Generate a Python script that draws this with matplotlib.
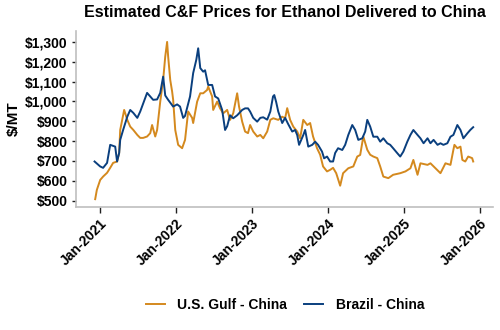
import numpy as np
import pandas as pd
import matplotlib
matplotlib.use("Agg")
import matplotlib.pyplot as plt
import matplotlib.dates as mdates

plt.rcParams["font.family"] = ["Liberation Sans", "DejaVu Sans"]
plt.rcParams["font.weight"] = "bold"

# ---------------------------------------------------------
# Prices ($/MT), C&F China
# ---------------------------------------------------------
gulf_dates = [
    "2020-12-11", "2020-12-19", "2021-01-04", "2021-01-18", "2021-02-06", "2021-02-21",
    "2021-03-07", "2021-03-26", "2021-04-05", "2021-04-10", "2021-04-29", "2021-05-14",
    "2021-05-28", "2021-06-12", "2021-07-01", "2021-07-15", "2021-07-29", "2021-08-17",
    "2021-09-01", "2021-09-10", "2021-09-25", "2021-10-04", "2021-10-19", "2021-11-02",
    "2021-11-12", "2021-11-21", "2021-11-26", "2021-12-06", "2021-12-15", "2021-12-20",
    "2021-12-30", "2022-01-13", "2022-02-01", "2022-02-15", "2022-03-02", "2022-03-21",
    "2022-03-26", "2022-04-14", "2022-04-29", "2022-05-13", "2022-06-01", "2022-06-06",
    "2022-06-25", "2022-06-30", "2022-07-19", "2022-08-02", "2022-08-17", "2022-09-05",
    "2022-09-19", "2022-10-04", "2022-10-23", "2022-11-01", "2022-11-16", "2022-11-30",
    "2022-12-14", "2022-12-24", "2023-01-08", "2023-01-27", "2023-02-11", "2023-02-25",
    "2023-03-16", "2023-03-31", "2023-04-14", "2023-05-08", "2023-05-27", "2023-06-10",
    "2023-06-20", "2023-07-04", "2023-07-19", "2023-08-07", "2023-08-21", "2023-09-05",
    "2023-09-24", "2023-10-08", "2023-10-22", "2023-11-10", "2023-11-25", "2023-12-09",
    "2023-12-28", "2024-01-12", "2024-01-26", "2024-02-10", "2024-02-29", "2024-03-14",
    "2024-04-08", "2024-05-02", "2024-05-21", "2024-06-04", "2024-06-19", "2024-07-08",
    "2024-07-22", "2024-08-06", "2024-08-25", "2024-09-08", "2024-09-23", "2024-10-17",
    "2024-11-09", "2024-12-13", "2025-01-07", "2025-01-31", "2025-02-14", "2025-03-06",
    "2025-03-20", "2025-04-23", "2025-05-07", "2025-05-31", "2025-06-24", "2025-07-18",
    "2025-08-11", "2025-08-25", "2025-08-30", "2025-09-13", "2025-09-28", "2025-10-07",
    "2025-10-21", "2025-11-04", "2025-11-23", "2025-11-28",
]
gulf_price = [
    507, 554, 604, 621, 640, 665,
    690, 697, 740, 856, 957, 907,
    873, 856, 831, 816, 816, 823,
    840, 881, 823, 856, 999, 1108,
    1226, 1300, 1226, 1108, 1050, 1008,
    856, 781, 764, 806, 949, 917,
    891, 999, 1041, 1041, 1058, 1075,
    1025, 957, 999, 965, 940, 957,
    907, 940, 1041, 974, 898, 848,
    840, 881, 848, 823, 831, 814,
    848, 907, 915, 907, 923, 915,
    966, 907, 873, 848, 814, 907,
    881, 891, 823, 764, 731, 672,
    647, 655, 665, 638, 575, 638,
    663, 672, 722, 730, 823, 756,
    731, 722, 714, 672, 621, 613,
    630, 638, 647, 663, 705, 630,
    688, 680, 688, 663, 638, 688,
    680, 756, 781, 764, 772, 705,
    697, 722, 714, 697,
]

brazil_dates = [
    "2020-12-08", "2021-01-04", "2021-01-18", "2021-02-06", "2021-02-21", "2021-03-17",
    "2021-03-26", "2021-04-05", "2021-04-10", "2021-04-24", "2021-05-14", "2021-05-28",
    "2021-06-12", "2021-07-01", "2021-07-15", "2021-08-17", "2021-09-01", "2021-09-15",
    "2021-10-04", "2021-10-19", "2021-11-02", "2021-11-12", "2021-11-26", "2021-12-20",
    "2022-01-08", "2022-01-22", "2022-02-06", "2022-02-15", "2022-03-11", "2022-03-26",
    "2022-04-10", "2022-04-19", "2022-04-29", "2022-05-13", "2022-05-22", "2022-06-06",
    "2022-06-25", "2022-07-09", "2022-07-24", "2022-08-12", "2022-08-26", "2022-09-05",
    "2022-09-19", "2022-10-04", "2022-10-23", "2022-11-16", "2022-11-30", "2022-12-14",
    "2022-12-24", "2023-01-08", "2023-01-27", "2023-02-11", "2023-02-25", "2023-03-16",
    "2023-03-31", "2023-04-13", "2023-04-19", "2023-04-28", "2023-05-08", "2023-05-27",
    "2023-06-10", "2023-06-25", "2023-07-14", "2023-07-28", "2023-08-07", "2023-08-16",
    "2023-09-05", "2023-09-14", "2023-09-29", "2023-10-18", "2023-11-01", "2023-11-15",
    "2023-12-04", "2023-12-14", "2023-12-28", "2024-01-12", "2024-01-26", "2024-02-05",
    "2024-02-19", "2024-03-10", "2024-03-24", "2024-04-08", "2024-04-27", "2024-05-11",
    "2024-05-26", "2024-06-14", "2024-06-28", "2024-07-08", "2024-07-22", "2024-08-06",
    "2024-08-25", "2024-09-08", "2024-09-23", "2024-10-12", "2024-10-26", "2024-11-09",
    "2024-11-29", "2024-12-13", "2024-12-28", "2025-01-16", "2025-01-31", "2025-02-14",
    "2025-03-06", "2025-03-20", "2025-04-04", "2025-04-23", "2025-05-07", "2025-05-22",
    "2025-06-10", "2025-06-24", "2025-07-08", "2025-07-27", "2025-08-11", "2025-08-25",
    "2025-09-13", "2025-09-28", "2025-10-12", "2025-10-31", "2025-11-14", "2025-11-28",
]
brazil_price = [
    697, 672, 665, 690, 781, 772,
    697, 740, 806, 856, 923, 957,
    942, 917, 949, 1043, 1025, 1008,
    1010, 1043, 1125, 1030, 1008, 974,
    985, 974, 917, 927, 1025, 1143,
    1210, 1268, 1168, 1150, 1157, 1083,
    1083, 1025, 1015, 957, 856, 875,
    930, 915, 930, 957, 965, 965,
    949, 917, 898, 917, 920, 908,
    949, 1025, 1032, 997, 949, 891,
    917, 885, 848, 856, 830, 781,
    830, 856, 772, 781, 797, 781,
    747, 713, 722, 697, 697, 740,
    764, 755, 781, 831, 881, 856,
    806, 814, 848, 907, 873, 822,
    822, 797, 814, 789, 781, 764,
    739, 722, 747, 797, 831, 856,
    831, 814, 789, 814, 789, 806,
    781, 789, 781, 789, 822, 831,
    881, 856, 814, 839, 856, 870,
]

year_ticks = ["2021-01-01", "2022-01-01", "2023-01-01", "2024-01-01", "2025-01-01", "2026-01-01"]
price_ticks = [500, 600, 700, 800, 900, 1000, 1100, 1200, 1300]

GULF_COLOR = "#D4891E"
BRAZIL_COLOR = "#0A3F7E"
SPINE_COLOR = "#BFBFBF"

fig = plt.figure(figsize=(5.0, 3.3), dpi=100)
ax = fig.add_axes([0.152, 0.373, 0.834, 0.533])

ax.plot(pd.to_datetime(gulf_dates), gulf_price, color=GULF_COLOR, lw=1.4,
        label="U.S. Gulf - China")
ax.plot(pd.to_datetime(brazil_dates), brazil_price, color=BRAZIL_COLOR, lw=1.4,
        label="Brazil - China")

ax.set_xlim(pd.Timestamp("2020-09-10"), pd.Timestamp("2026-03-03"))
ax.set_ylim(468, 1355)

ax.set_xticks(pd.to_datetime(year_ticks))
ax.xaxis.set_major_formatter(mdates.DateFormatter("%b-%Y"))
ax.set_yticks(price_ticks)
ax.set_yticklabels([f"${v:,}" for v in price_ticks])

for lab in ax.get_xticklabels():
    lab.set_rotation(45)
    lab.set_ha("right")
    lab.set_rotation_mode("anchor")

ax.tick_params(axis="x", length=4, width=1, color="#202020", labelsize=10, pad=3)
ax.tick_params(axis="y", length=3, width=1, color="#202020", labelsize=10, pad=3)

for side in ["top", "right"]:
    ax.spines[side].set_visible(False)
for side in ["left", "bottom"]:
    ax.spines[side].set_color(SPINE_COLOR)
    ax.spines[side].set_linewidth(1.2)

ax.set_ylabel("$/MT", fontsize=11, fontweight="bold", labelpad=3)
ax.set_title("Estimated C&F Prices for Ethanol Delivered to China",
             fontsize=11.5, fontweight="bold", pad=10)

fig.legend(loc="center", bbox_to_anchor=(0.57, 0.075), ncol=2, frameon=False,
           fontsize=10, handlelength=1.4, columnspacing=1.2, handletextpad=0.9)

fig.savefig("out.png", dpi=100)
